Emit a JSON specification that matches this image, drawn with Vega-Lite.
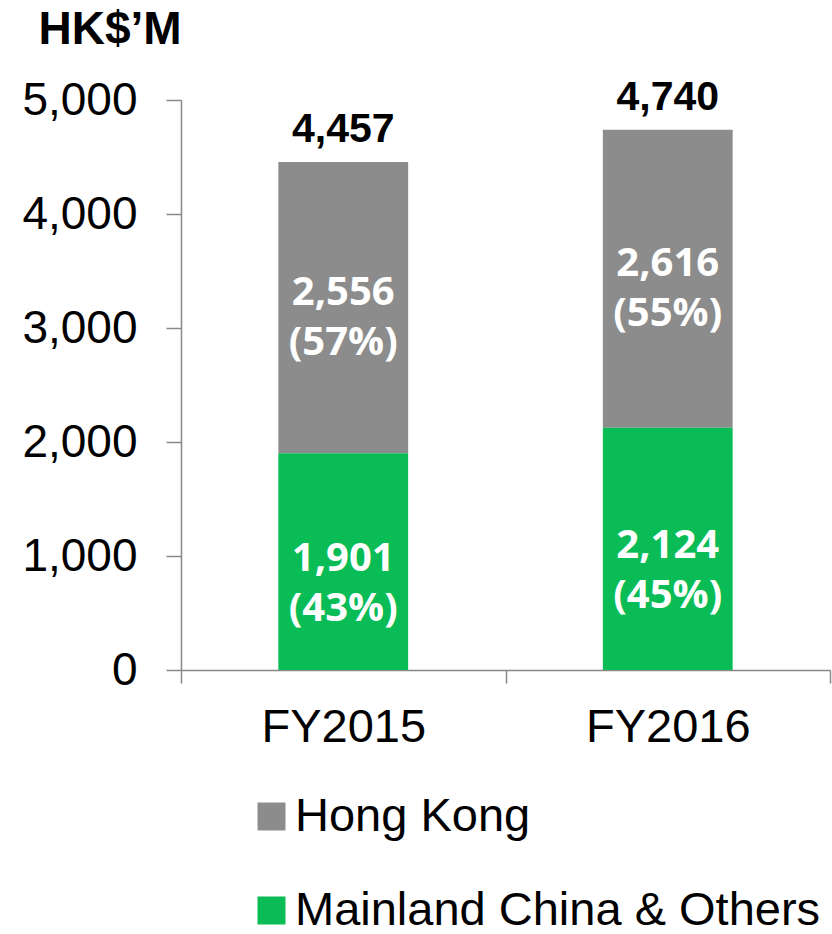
{
  "$schema": "https://vega.github.io/schema/vega-lite/v6.json",
  "autosize": {"type": "none"},
  "padding": {"left": 181, "top": 100, "right": 2, "bottom": 264},
  "width": 649,
  "height": 570,
  "background": "white",
  "config": {"view": {"stroke": null}, "font": "Liberation Sans"},
  "data": {
    "values": [
      {"year": "FY2015", "region": "Hong Kong", "value": 2556, "share": "(57%)"},
      {"year": "FY2015", "region": "Mainland China & Others", "value": 1901, "share": "(43%)"},
      {"year": "FY2016", "region": "Hong Kong", "value": 2616, "share": "(55%)"},
      {"year": "FY2016", "region": "Mainland China & Others", "value": 2124, "share": "(45%)"}
    ]
  },
  "encoding": {
    "x": {
      "field": "year", "type": "nominal", "sort": ["FY2015", "FY2016"],
      "scale": {"paddingInner": 0, "paddingOuter": 0},
      "axis": {"title": null, "labelAngle": 0, "labelFontSize": 47, "labelColor": "#000", "labelPadding": 21, "tickSize": 13, "tickBand": "extent", "domainColor": "#898989", "tickColor": "#898989", "domainWidth": 1.5, "tickWidth": 1.5, "grid": false, "labelFont": "Liberation Sans"}
    },
    "y": {
      "field": "value", "type": "quantitative",
      "scale": {"domain": [0, 5000], "nice": false},
      "axis": {"values": [0, 1000, 2000, 3000, 4000, 5000], "format": ",.0f", "grid": false, "labelFontSize": 46, "labelColor": "#000", "labelPadding": 29, "tickSize": 15, "domainColor": "#898989", "tickColor": "#898989", "domainWidth": 1.5, "tickWidth": 1.5, "labelFont": "Liberation Sans", "title": "HK$’M", "titleAngle": 0, "titleAlign": "left", "titleBaseline": "alphabetic", "titleX": -143, "titleY": -57, "titleFontSize": 46, "titleFontWeight": "bold", "titleColor": "#000", "titleFont": "Liberation Sans"}
    }
  },
  "layer": [
    {
      "mark": {"type": "bar", "width": {"band": 0.4}},
      "encoding": {
        "color": {
          "field": "region", "type": "nominal",
          "scale": {"domain": ["Hong Kong", "Mainland China & Others"], "range": ["#8c8c8c", "#09bc55"]},
          "legend": {"title": null, "orient": "none", "legendX": 67, "legendY": 693, "direction": "vertical", "symbolType": "square", "symbolSize": 784, "symbolStrokeWidth": 0, "symbolOpacity": 1, "labelFontSize": 47, "labelColor": "#000", "labelFont": "Liberation Sans", "labelLimit": 0, "rowPadding": 46, "labelOffset": 0, "padding": 0}
        },
        "order": {"field": "region", "sort": "descending"}
      }
    },
    {
      "transform": [
        {"stack": "value", "groupby": ["year"], "sort": [{"field": "region", "order": "descending"}], "as": ["v0", "v1"]},
        {"calculate": "(datum.v0 + datum.v1) / 2", "as": "mid"},
        {"calculate": "format(datum.value, ',.0f') + '\\n' + datum.share", "as": "lbl"},
        {"filter": "datum.region == 'Hong Kong'"}
      ],
      "mark": {"type": "text", "font": "Open Sans", "fontWeight": "bold", "fontSize": 40, "color": "white", "lineHeight": 50, "lineBreak": "\n", "baseline": "middle", "dy": -15},
      "encoding": {
        "y": {"field": "mid", "type": "quantitative"},
        "text": {"field": "lbl", "type": "nominal"}
      }
    },
    {
      "transform": [
        {"stack": "value", "groupby": ["year"], "sort": [{"field": "region", "order": "descending"}], "as": ["v0", "v1"]},
        {"calculate": "(datum.v0 + datum.v1) / 2", "as": "mid"},
        {"calculate": "format(datum.value, ',.0f') + '\\n' + datum.share", "as": "lbl"},
        {"filter": "datum.region != 'Hong Kong'"}
      ],
      "mark": {"type": "text", "font": "Open Sans", "fontWeight": "bold", "fontSize": 40, "color": "white", "lineHeight": 50, "lineBreak": "\n", "baseline": "middle", "dy": -3},
      "encoding": {
        "y": {"field": "mid", "type": "quantitative"},
        "text": {"field": "lbl", "type": "nominal"}
      }
    },
    {
      "transform": [{"aggregate": [{"op": "sum", "field": "value", "as": "total"}], "groupby": ["year"]}],
      "mark": {"type": "text", "font": "Liberation Sans", "fontWeight": "bold", "fontSize": 41, "color": "#000", "baseline": "alphabetic", "dy": -20},
      "encoding": {
        "y": {"field": "total", "type": "quantitative"},
        "text": {"field": "total", "type": "quantitative", "format": ",.0f"}
      }
    }
  ]
}
